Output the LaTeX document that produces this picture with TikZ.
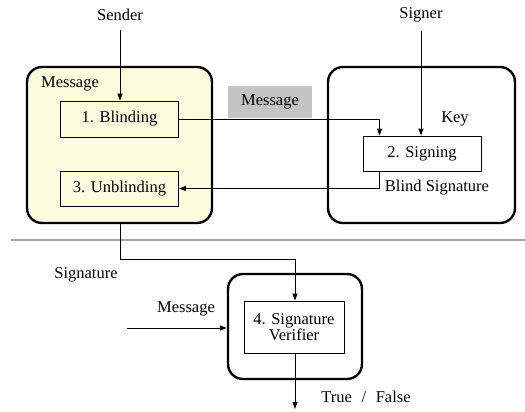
\documentclass[tikz,border=0pt]{standalone}
\usepackage{fontspec}
\setmainfont{Liberation Serif}
\usetikzlibrary{arrows.meta,calc}
\definecolor{paleyellow}{RGB}{253,252,222}
\definecolor{msggray}{RGB}{196,196,196}
\definecolor{rulegray}{RGB}{165,165,165}
\tikzset{
  txt/.style={font=\fontsize{16.5}{18}\selectfont, inner sep=0pt},
  bigbox/.style={draw, line width=2.4pt, rounded corners=15pt, minimum width=#1, inner sep=0pt},
  stepbox/.style={draw, line width=0.9pt, inner sep=0pt, font=\fontsize{16.5}{18}\selectfont},
  arr/.style={line width=0.9pt, -{Triangle[length=7pt,width=5pt]}},
  ln/.style={line width=0.9pt}
}
\begin{document}
\begin{tikzpicture}[x=1pt,y=-1pt]
\useasboundingbox (0,0) rectangle (525,412);

% user (left) side
\node[bigbox=185pt, minimum height=156pt, fill=paleyellow] (ubox) at (119.5,145) {};
\node[txt] (umsg) at (70,84) {Message};
\node[stepbox, fill=paleyellow, minimum width=118pt, minimum height=36pt] (blind) at (119.5,119) {1. Blinding};
\node[stepbox, fill=paleyellow, minimum width=118pt, minimum height=35pt] (unblind) at (119.5,188.5) {3. Unblinding};
\node[txt] (sender) at (120,15) {Sender};

% signer (right) side
\node[bigbox=187pt, minimum height=156pt] (sbox) at (421.5,145) {};
\node[stepbox, fill=white, minimum width=118pt, minimum height=35pt] (sign) at (422,153.5) {2. Signing};
\node[txt] (signer) at (421,15) {Signer};
\node[txt] (key) at (455,119) {Key};
\node[txt] (bsig) at (437,188) {Blind Signature};

% blinded message in transit
\node[fill=msggray, minimum width=84pt, minimum height=32pt, inner sep=0pt, font=\fontsize{16.5}{18}\selectfont] (bmsg) at (270,102) {Message};

% separator
\draw[rulegray, line width=1.4pt] (11,240) -- (525,240);

% verification
\node[bigbox=134pt, minimum height=105pt] (vbox) at (295,326.5) {};
\node[stepbox, fill=white, minimum width=100pt, minimum height=52pt, align=center] (verify) at (294,327) {4. Signature\\[-2pt]Verifier};
\node[txt] (sigl) at (86,275) {Signature};
\node[txt] (vmsg) at (186,309) {Message};
\node[txt] (tf) at (366,397) {True\,\, /\,\, False};

\coordinate (min) at (127,328);
\coordinate (out) at (295,409);

% connectors
\draw[arr] ($(sender.south)+(0,9)$) -- (sender.south |- blind.north);
\draw[arr] ($(signer.south)+(0,9)$) -- (signer.south |- sign.north);
\draw[arr] (blind.east) -| ($(sign.north west)+(17,0)$);
\draw[arr] ($(sign.south west)+(17,0)$) |- (unblind.east);
\draw[arr] (ubox.south -| sender.south) -- ++(0,35) -| (verify.north -| out);
\draw[arr] (min) -- (vbox.west |- min);
\draw[arr] (verify.south -| out) -- (out);
\end{tikzpicture}
\end{document}
